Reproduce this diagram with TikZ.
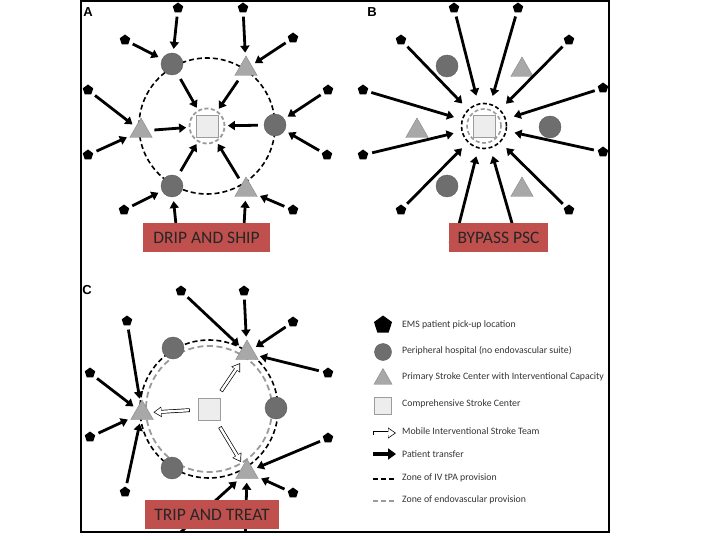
\documentclass[tikz,border=0pt]{standalone}
\usepackage{fontspec}
\setmainfont{Carlito}
\newfontfamily\panelfont{Liberation Sans}
\usepackage{tikz}
\usetikzlibrary{arrows.meta,positioning,shapes.geometric}
\usepackage{xcolor}
\definecolor{hospgray}{HTML}{6E6E6E}
\definecolor{hospedge}{HTML}{5A5A5A}
\definecolor{pscgray}{HTML}{A8A8A8}
\definecolor{pscedge}{HTML}{888888}
\definecolor{cscgray}{HTML}{EDEDED}
\definecolor{cscedge}{HTML}{9C9C9C}
\definecolor{zonegray}{HTML}{9A9A9A}
\definecolor{tagred}{HTML}{C0504D}

\begin{document}
\begin{tikzpicture}[
    x=1pt, y=-1pt,
    pent/.style={regular polygon, regular polygon sides=5, fill=black, inner sep=0pt, minimum size=11pt},
    hosp/.style={circle, fill=hospgray, draw=hospedge, minimum size=22pt, inner sep=0pt},
    psc/.style={regular polygon, regular polygon sides=3, fill=pscgray, draw=pscedge, minimum size=26pt, inner sep=0pt},
    csc/.style={rectangle, fill=cscgray, draw=cscedge, minimum size=22pt, inner sep=0pt},
    ivzone/.style={line width=1.6pt, dash pattern=on 5pt off 3pt},
    endozone/.style={draw=zonegray, line width=1.8pt, dash pattern=on 6pt off 3.5pt},
    transfer/.style={-{Triangle[length=7pt, width=9pt]}, line width=2.8pt, shorten <=4pt, shorten >=4pt},
    mobile/.style={-{Triangle[length=8pt, width=10pt]}, line width=3.8pt, shorten <=8pt, shorten >=4pt,
                   postaction={draw=white, line width=2.4pt, shorten <=8.7pt, shorten >=5.3pt,
                               -{Triangle[length=6.2pt, width=7.8pt]}}},
    tag/.style={fill=tagred, text=black!85, font=\fontsize{17.5}{20}\selectfont, minimum height=29pt, inner sep=0pt},
    panel/.style={font=\panelfont\bfseries\fontsize{13}{15}\selectfont},
    legend/.style={anchor=west, font=\fontsize{9.8}{11}\selectfont, text=black!80, inner sep=0pt},
]
\useasboundingbox (0,0) rectangle (720,540);

\begin{scope}
\clip (81,1) rectangle (609,532);

% Panel A: drip and ship
\node[panel] (labA) at (88,12) {A};
\draw[ivzone] (207,126) circle[radius=68pt];
\node[circle, draw=zonegray, line width=1.8pt, dash pattern=on 4pt off 2.5pt, minimum size=35pt] (zA) at (207,126) {};
\node[csc] (cA) at (207,126) {};
\node[hosp] (A1) at (275,125) {};
\node[psc]  (A2) at (246,69) {};
\node[hosp] (A3) at (172,64) {};
\node[psc]  (A4) at (141,131) {};
\node[hosp] (A5) at (172,186) {};
\node[psc]  (A6) at (246,190) {};

\node[pent] (pa1) at (178,8) {};
\node[pent] (pa2) at (243,8) {};
\node[pent] (pa3) at (125,40) {};
\node[pent] (pa4) at (293,38) {};
\node[pent] (pa5) at (88,90) {};
\node[pent] (pa6) at (328,90) {};
\node[pent] (pa7) at (88,155) {};
\node[pent] (pa8) at (327,155) {};
\node[pent] (pa9) at (124,210) {};
\node[pent] (pa10) at (293,210) {};
\node[pent] (pa11) at (178,244) {};
\node[pent] (pa12) at (243,244) {};

\draw[transfer] (pa1) -- (A3);
\draw[transfer] (pa2) -- (A2);
\draw[transfer] (pa3) -- (A3);
\draw[transfer] (pa4) -- (A2);
\draw[transfer] (pa5) -- (A4);
\draw[transfer] (pa6) -- (A1);
\draw[transfer] (pa7) -- (A4);
\draw[transfer] (pa8) -- (A1);
\draw[transfer] (pa9) -- (A5);
\draw[transfer] (pa10) -- (A6);
\draw[transfer] (pa11) -- (A5);
\draw[transfer] (pa12) -- (A6);

% hospitals ship on to the CSC
\draw[transfer, shorten <=6pt, shorten >=2.5pt] (A1) -- (zA);
\draw[transfer, shorten <=6pt, shorten >=2.5pt] (A2) -- (zA);
\draw[transfer, shorten <=6pt, shorten >=2.5pt] (A3) -- (zA);
\draw[transfer, shorten <=6pt, shorten >=2.5pt] (A4) -- (zA);
\draw[transfer, shorten <=6pt, shorten >=2.5pt] (A5) -- (zA);
\draw[transfer, shorten <=6pt, shorten >=2.5pt] (A6) -- (zA);

\node[tag, minimum width=127pt] (tagA) at (206.5,237.5) {DRIP AND SHIP};

% Panel B: bypass PSC
\node[panel] (labB) at (372,12) {B};
\node[circle, draw=zonegray, line width=1.6pt, dash pattern=on 4pt off 2.5pt, minimum size=34pt] (zBi) at (484,126) {};
\node[circle, draw=black, line width=1.6pt, dash pattern=on 4pt off 2.5pt, minimum size=45pt] (zBo) at (484,126) {};
\node[csc] (cB) at (484,126) {};
\node[hosp] (B1) at (550,127) {};
\node[psc]  (B2) at (522,70) {};
\node[hosp] (B3) at (447,66) {};
\node[psc]  (B4) at (417,131) {};
\node[hosp] (B5) at (447,186) {};
\node[psc]  (B6) at (522,190) {};

\node[pent] (pb1) at (454,8) {};
\node[pent] (pb2) at (518,8) {};
\node[pent] (pb3) at (401,40) {};
\node[pent] (pb4) at (569,40) {};
\node[pent] (pb5) at (363,90) {};
\node[pent] (pb6) at (603,88) {};
\node[pent] (pb7) at (363,155) {};
\node[pent] (pb8) at (603,152) {};
\node[pent] (pb9) at (401,210) {};
\node[pent] (pb10) at (569,210) {};
\node[pent] (pb11) at (454,244) {};
\node[pent] (pb12) at (518,244) {};

\draw[transfer, shorten >=8pt] (pb1) -- (zBo);
\draw[transfer, shorten >=8pt] (pb2) -- (zBo);
\draw[transfer, shorten >=8pt] (pb3) -- (zBo);
\draw[transfer, shorten >=8pt] (pb4) -- (zBo);
\draw[transfer, shorten >=8pt] (pb5) -- (zBo);
\draw[transfer, shorten >=8pt] (pb6) -- (zBo);
\draw[transfer, shorten >=8pt] (pb7) -- (zBo);
\draw[transfer, shorten >=8pt] (pb8) -- (zBo);
\draw[transfer, shorten >=8pt] (pb9) -- (zBo);
\draw[transfer, shorten >=8pt] (pb10) -- (zBo);
\draw[transfer, shorten >=8pt] (pb11) -- (zBo);
\draw[transfer, shorten >=8pt] (pb12) -- (zBo);

\node[tag, minimum width=99pt] (tagB) at (498.5,237.5) {BYPASS PSC};

% Panel C: trip and treat
\node[panel] (labC) at (87,290) {C};
\draw[ivzone] (209,409) circle[radius=69pt];
\draw[endozone] (209,409) circle[radius=63pt];
\node[csc] (cC) at (209,409) {};
\node[hosp] (C1) at (276,408) {};
\node[psc]  (C2) at (247,353) {};
\node[hosp] (C3) at (173,348) {};
\node[psc]  (C4) at (142,413) {};
\node[hosp] (C5) at (172,468) {};
\node[psc]  (C6) at (247,472) {};

\node[pent] (pc1) at (181,291) {};
\node[pent] (pc2) at (244,291) {};
\node[pent] (pc3) at (127,321) {};
\node[pent] (pc4) at (293,322) {};
\node[pent] (pc5) at (90,373) {};
\node[pent] (pc6) at (328,373) {};
\node[pent] (pc7) at (90,437) {};
\node[pent] (pc8) at (328,438) {};
\node[pent] (pc9) at (125,492) {};
\node[pent] (pc10) at (293,493) {};
\node[pent] (pc11) at (150,560) {};
\node[pent] (pc12) at (245,550) {};

\draw[transfer] (pc1) -- (C2);
\draw[transfer] (pc2) -- (C2);
\draw[transfer] (pc3) -- (C4);
\draw[transfer] (pc4) -- (C2);
\draw[transfer] (pc5) -- (C4);
\draw[transfer] (pc6) -- (C2);
\draw[transfer] (pc7) -- (C4);
\draw[transfer] (pc8) -- (C6);
\draw[transfer] (pc9) -- (C4);
\draw[transfer] (pc10) -- (C6);
\draw[transfer] (pc11) -- (C6);
\draw[transfer] (pc12) -- (C6);

% mobile team travels out from the CSC
\draw[mobile] (cC) -- (C4);
\draw[mobile] (cC) -- (C2);
\draw[mobile] (cC) -- (C6);

\node[tag, minimum width=134pt] (tagC) at (212,514.5) {TRIP AND TREAT};

% Legend
\node[pent, minimum size=19pt] (lgPent) at (383,325) {};
\node[hosp, minimum size=17pt] (lgHosp) at (383,352) {};
\node[psc, minimum size=21pt] (lgPsc) at (383,379) {};
\node[csc, minimum size=17pt] (lgCsc) at (383,406) {};
\coordinate (lgMob1) at (373,433);
\coordinate (lgMob2) at (396,433);
\draw[line width=4.6pt, -{Triangle[length=8pt, width=10.5pt]},
      postaction={draw=white, line width=3pt, shorten <=0.8pt, shorten >=1.3pt,
                  -{Triangle[length=6.3pt, width=8.3pt]}}] (lgMob1) -- (lgMob2);
\coordinate (lgTr1) at (373,454);
\coordinate (lgTr2) at (396,454);
\draw[line width=4.8pt, -{Triangle[length=8pt, width=11pt]}] (lgTr1) -- (lgTr2);
\coordinate (lgIv1) at (373,479);
\coordinate (lgIv2) at (394,479);
\draw[line width=2.4pt, dash pattern=on 5pt off 3pt] (lgIv1) -- (lgIv2);
\coordinate (lgEn1) at (373,501);
\coordinate (lgEn2) at (394,501);
\draw[zonegray, line width=2.4pt, dash pattern=on 5pt off 3pt] (lgEn1) -- (lgEn2);

\node[legend] (lgT1) at (402,325) {EMS patient pick-up location};
\node[legend] (lgT2) at (402,351) {Peripheral hospital (no endovascular suite)};
\node[legend] (lgT3) at (402,377) {Primary Stroke Center with Interventional Capacity};
\node[legend] (lgT4) at (402,404) {Comprehensive Stroke Center};
\node[legend] (lgT5) at (402,431) {Mobile Interventional Stroke Team};
\node[legend] (lgT6) at (402,454) {Patient transfer};
\node[legend] (lgT7) at (402,478) {Zone of IV tPA provision};
\node[legend] (lgT8) at (402,500) {Zone of endovascular provision};
\end{scope}

% outer frame
\draw[line width=1.2pt] (81,1) rectangle (609,532);

\end{tikzpicture}
\end{document}
